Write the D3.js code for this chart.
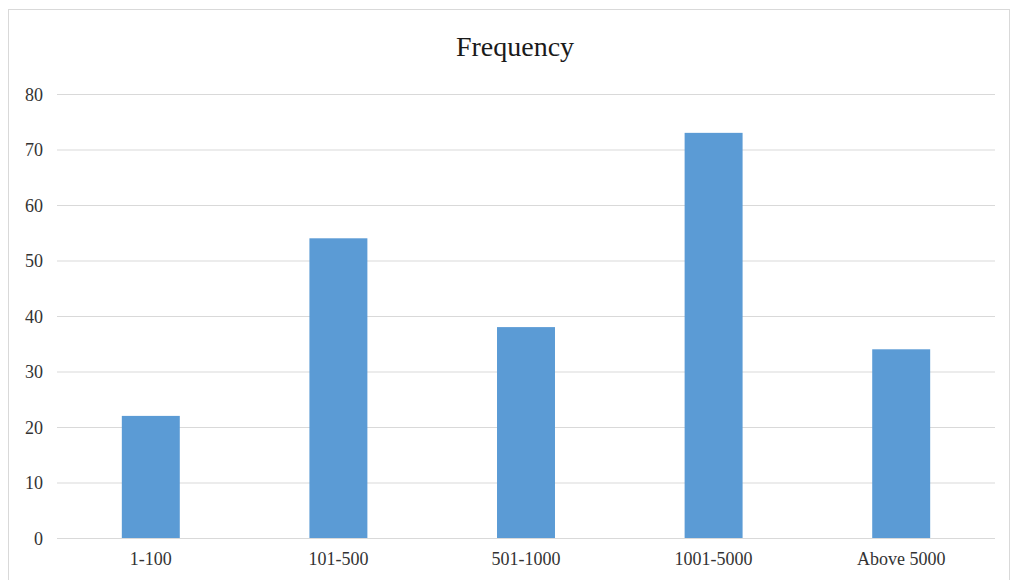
<!DOCTYPE html>
<html>
<head>
<meta charset="utf-8">
<script src="https://cdn.jsdelivr.net/npm/d3@7"></script>
<style>
  html, body { margin: 0; padding: 0; background: #fff; }
  svg { display: block; }
</style>
</head>
<body>
<svg id="chart" width="1014" height="580"></svg>
<script>
const categories = ["1-100", "101-500", "501-1000", "1001-5000", "Above 5000"];
const frequency = [22, 54, 38, 73, 34];
const yTicks = [0, 10, 20, 30, 40, 50, 60, 70, 80];
const chartTitle = "Frequency";

const svg = d3.select("#chart");
const font = "'Liberation Serif', 'Times New Roman', serif";

// outer chart frame
svg.append("rect")
  .attr("x", 8.5).attr("y", 9.5)
  .attr("width", 1001).attr("height", 580)
  .attr("fill", "#fff")
  .attr("stroke", "#d9d9d9");

const plot = { left: 57, right: 995, top: 94, bottom: 538 };

const x = d3.scaleBand()
  .domain(categories)
  .range([plot.left, plot.right])
  .paddingInner(0.691)
  .paddingOuter(0.3455);

const y = d3.scaleLinear()
  .domain([0, 80])
  .range([plot.bottom, plot.top]);

// horizontal gridlines with value labels
const yAxis = d3.axisLeft(y)
  .tickValues(yTicks)
  .tickSize(-(plot.right - plot.left))
  .tickPadding(14);

const gy = svg.append("g")
  .attr("transform", `translate(${plot.left},0)`)
  .call(yAxis);
gy.select(".domain").remove();
gy.selectAll(".tick line").attr("stroke", "#d9d9d9").attr("stroke-width", 1);
gy.selectAll(".tick text")
  .attr("fill", "#333")
  .attr("dy", "0.36em")
  .style("font-family", font)
  .style("font-size", "18px");

// bars
svg.append("g")
  .selectAll("rect")
  .data(frequency)
  .join("rect")
  .attr("x", (d, i) => x(categories[i]))
  .attr("y", d => y(d))
  .attr("width", x.bandwidth())
  .attr("height", d => y(0) - y(d))
  .attr("fill", "#5b9bd5");

// category axis labels
const xAxis = d3.axisBottom(x).tickSize(0).tickPadding(14);
const gx = svg.append("g")
  .attr("transform", `translate(0,${plot.bottom})`)
  .call(xAxis);
gx.select(".domain").remove();
gx.selectAll(".tick text")
  .attr("fill", "#333")
  .style("font-family", font)
  .style("font-size", "18px");

// title
svg.append("text")
  .attr("x", 515)
  .attr("y", 56)
  .attr("text-anchor", "middle")
  .attr("fill", "#1a1a1a")
  .style("font-family", font)
  .style("font-size", "28px")
  .text(chartTitle);
</script>
</body>
</html>
